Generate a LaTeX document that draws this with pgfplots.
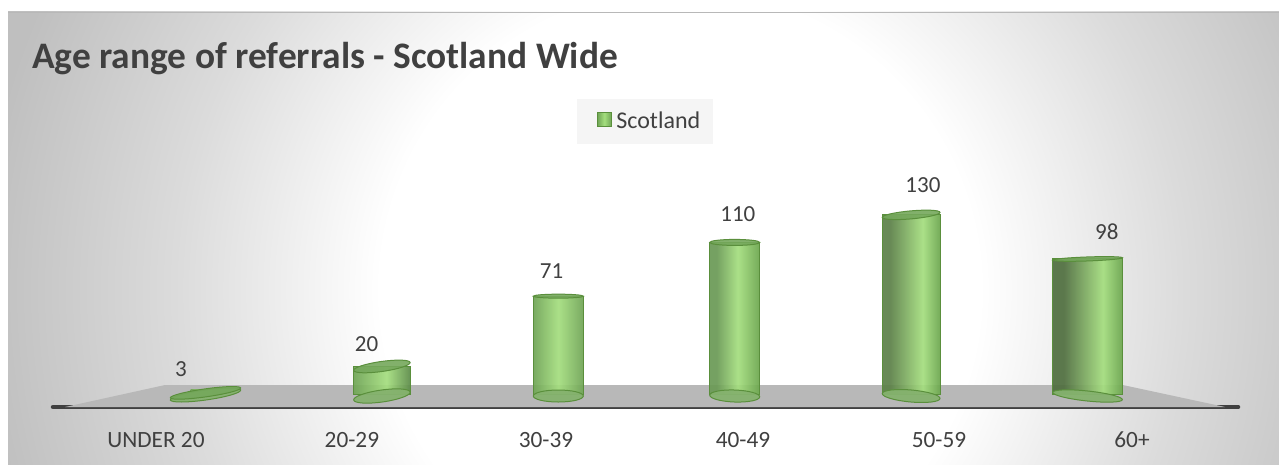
\documentclass[border=0pt]{standalone}
\usepackage{pgfplots}
\pgfplotsset{compat=1.18}
\usepackage{fontspec}
\setmainfont{Carlito}
\definecolor{txt}{HTML}{404040}
\definecolor{plane}{HTML}{B8B8B8}
\definecolor{edge}{HTML}{5A8F3C}
\pgfdeclareradialshading{bgrad}{\pgfpointorigin}{color(0bp)=(white); color(10.7bp)=(white); color(18bp)=(white!86!black); color(25bp)=(white!75!black); color(50bp)=(white!73!black)}
% horizontal shadings: path spans 25bp..75bp
\definecolor{a0}{HTML}{6FA455}\definecolor{al}{HTML}{A4DE7E}
\definecolor{d1}{HTML}{4F6E3F}\definecolor{d2}{HTML}{5C8148}\definecolor{d3}{HTML}{6A9A55}
\definecolor{r1}{HTML}{6AA54C}\definecolor{r2}{HTML}{5A8A46}
\pgfdeclarehorizontalshading{cylA}{100bp}{color(0bp)=(a0); color(25bp)=(a0); color(50bp)=(al); color(75bp)=(a0); color(100bp)=(a0)}
\pgfdeclarehorizontalshading{cylB}{100bp}{color(0bp)=(a0); color(25bp)=(a0); color(54bp)=(al); color(75bp)=(r2); color(100bp)=(r2)}
\pgfdeclarehorizontalshading{cylC}{100bp}{color(0bp)=(d3); color(25bp)=(d3); color(32bp)=(d3); color(53bp)=(al); color(75bp)=(r1); color(100bp)=(r1)}
\pgfdeclarehorizontalshading{cylD}{100bp}{color(0bp)=(d2); color(25bp)=(d2); color(32bp)=(d2); color(60bp)=(al); color(75bp)=(r1); color(100bp)=(r1)}
\pgfdeclarehorizontalshading{cylE}{100bp}{color(0bp)=(d1); color(25bp)=(d1); color(33bp)=(d1); color(61bp)=(al); color(75bp)=(r1); color(100bp)=(r1)}
\newcommand\caps[9]{% x, y, width, top rot, top ry, bottom rot, bottom ry, top shift, bottom shift
  \addplot[forget plot,only marks,mark=*,mark size=1pt,mark options={yshift=#9,rotate=#6,xscale={#3/2},yscale=#7,fill=a0!85!white,draw=edge,line width=1pt,fill opacity=0.95}] coordinates {(#1,0)};
  \addplot[forget plot,only marks,mark=*,mark size=1pt,mark options={yshift=#8,rotate=#4,xscale={#3/2},yscale=#5,fill=a0!96!white,draw=edge,line width=1pt,fill opacity=0.9}] coordinates {(#1,#2)};
}
\newcommand\cyl[8]{% x, y, width, shading, top rot, top ry, bottom rot, bottom ry
  \addplot[forget plot,ybar,bar shift=0pt,bar width=#3pt,draw=edge,line width=1pt,shading=#4,fill opacity=0.92] coordinates {(#1,#2)};
  \caps{#1}{#2}{#3}{#5}{#6}{#7}{#8}{0pt}{-2pt}
}
\begin{document}
\begin{tikzpicture}[x=1pt,y=1pt]
\path[use as bounding box] (0,0) rectangle (1279,464);
\fill[white] (0,0) rectangle (1279,464);
\begin{scope}
\clip (8,0) rectangle (1279,452);
\shade[shading=bgrad] (680-700,174-700) rectangle (680+700,174+700);
\end{scope}
\fill[white!72!black] (8,450.5) rectangle (1279,452);
\begin{axis}[
  at={(53pt,57pt)},anchor=south west,
  scale only axis,width=1185pt,height=307pt,
  xmin=-0.8645,xmax=5.853,ymin=-9.43,ymax=213.35,
  clip=false,
  axis x line=bottom,axis y line=none,
  x axis line style={-,draw=txt,line width=4.5pt,line cap=round},
  ytick=\empty,
  xtick={-0.281,0.830,1.930,3.047,4.158,5.252},
  xticklabels={UNDER 20,20-29,30-39,40-49,50-59,60+},
  major tick length=0pt,
  xticklabel style={font=\fontsize{23.3}{26}\selectfont,text=txt,inner sep=0pt,anchor=center,yshift=-33pt},
  title={\textbf{Age range of referrals - Scotland Wide}},
  title style={at={(axis description cs:-0.0177,1.114)},anchor=west,inner sep=0pt,font=\fontsize{37.4}{42}\selectfont,text=txt},
  legend style={at={(rel axis cs:0.4996,0.93)},anchor=center,draw=none,fill=white!96!black,
    font=\fontsize{24}{27}\selectfont,text=txt,inner xsep=10.5pt,inner ysep=10pt,
    legend cell align=left,/tikz/every even column/.append style={column sep=0pt}},
]
% floor
\addplot[forget plot,fill=plane,draw=none] coordinates {(-0.796,-9.43) (-0.2296,6.53) (5.2,6.53) (5.78,-9.43) (-0.796,-9.43)};
% first bar carries the legend
\addplot[ybar,bar shift=0pt,bar width=30pt,draw=none,shading=cylA,fill opacity=0.92,
  legend image code/.code={\path (0pt,0pt) -- (26.5pt,0pt);\draw[fill=a0!85!white,draw=edge,line width=1pt,fill opacity=1] (9.5pt,-5pt) rectangle (23.5pt,9pt);}] coordinates {(0,3)};
\addlegendentry{\raisebox{2pt}{Scotland}}
\caps{0}{3}{71}{8}{4}{8}{5}{-3pt}{-1pt}
\cyl{1}{20}{57}{cylB}{8}{5}{8}{6}
\cyl{2}{71}{50}{cylA}{0}{2}{0}{6}
\cyl{3}{110}{50}{cylC}{0}{3}{-2}{6}
\cyl{4}{130}{58}{cylD}{5}{4}{-5}{6}
\cyl{5}{98}{70}{cylE}{2}{2}{-6}{5}
% data labels
\addplot[forget plot,only marks,mark=none,point meta=explicit symbolic,
  nodes near coords,nodes near coords align={anchor=center},
  every node near coord/.append style={font=\fontsize{23}{26}\selectfont,text=txt,inner sep=0pt}]
  table[meta=l] {
x y l
-0.139 18.1 3
0.913 36.3 20
1.962 89.3 71
3.018 130.6 110
4.067 151.7 130
5.109 117.6 98
};
\end{axis}
\end{tikzpicture}
\end{document}
